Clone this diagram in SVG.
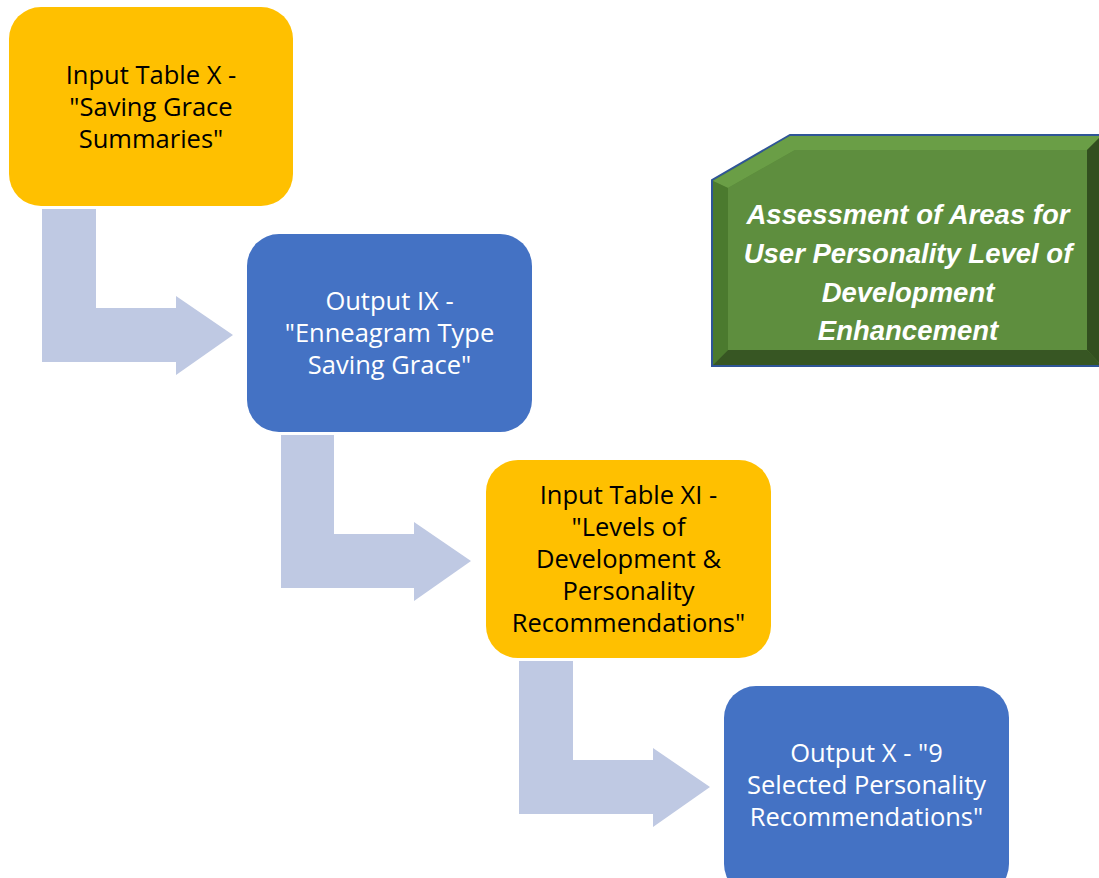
<svg xmlns="http://www.w3.org/2000/svg" width="1099" height="878" viewBox="0 0 1099 878">
<style>
.yel{fill:#FFC000}
.blu{fill:#4472C4}
.arr{fill:#BFC9E3}
.t{font-family:"Open Sans","Liberation Sans",sans-serif;font-size:25.5px;text-anchor:middle}
.dk{fill:#000}
.wh{fill:#fff}
.g{font-family:"Liberation Sans","Open Sans",sans-serif;font-size:27.5px;font-weight:bold;font-style:italic;fill:#fff;text-anchor:middle}
</style>
<rect width="1099" height="878" fill="#fff"/>
<g id="connectors">
<polygon class="arr" points="42,209 96,209 96,308 176,308 176,296 233,335 176,375 176,362 42,362"/>
<polygon class="arr" points="281,435 334,435 334,534 414,534 414,522 471,561 414,601 414,588 281,588"/>
<polygon class="arr" points="519,661 573,661 573,760 653,760 653,748 710,787 653,827 653,814 519,814"/>
</g>
<g id="node1">
<rect class="yel" x="9" y="7" width="284" height="199" rx="32"/>
<text class="t dk" x="151" y="84">Input Table X -</text>
<text class="t dk" x="151" y="116">"Saving Grace</text>
<text class="t dk" x="151" y="148">Summaries"</text>
</g>
<g id="node2">
<rect class="blu" x="247" y="234" width="285" height="198" rx="32"/>
<text class="t wh" x="389.5" y="310">Output IX -</text>
<text class="t wh" x="389.5" y="342">"Enneagram Type</text>
<text class="t wh" x="389.5" y="374">Saving Grace"</text>
</g>
<g id="node3">
<rect class="yel" x="486" y="460" width="285" height="198" rx="32"/>
<text class="t dk" x="628.5" y="504">Input Table XI -</text>
<text class="t dk" x="628.5" y="536">"Levels of</text>
<text class="t dk" x="628.5" y="568">Development &amp;</text>
<text class="t dk" x="628.5" y="600">Personality</text>
<text class="t dk" x="628.5" y="632">Recommendations"</text>
</g>
<g id="node4">
<rect class="blu" x="724" y="686" width="285" height="210" rx="32"/>
<text class="t wh" x="866.5" y="762">Output X - "9</text>
<text class="t wh" x="866.5" y="794">Selected Personality</text>
<text class="t wh" x="866.5" y="826">Recommendations"</text>
</g>
<g id="assessment">
<polygon points="790,135 1102,135 1102,366 712,366 712,180" fill="#5B8C3B" stroke="#2F5597" stroke-width="2"/>
<polygon points="790,136 1101,136 1087,150 795,150 728,188 713,181" fill="#6A9E46"/>
<polygon points="713,181 728,188 728,350 713,365" fill="#4B7A2E"/>
<polygon points="713,365 728,350 1087,350 1101,365" fill="#375623"/>
<polygon points="1087,150 1101,136 1101,365 1087,350" fill="#324F1F"/>
<polygon points="795,150 1087,150 1087,350 728,350 728,188" fill="#5E8E3E"/>
<text class="g" x="908" y="224">Assessment of Areas for</text>
<text class="g" x="908" y="263">User Personality Level of</text>
<text class="g" x="908" y="302">Development</text>
<text class="g" x="908" y="340">Enhancement</text>
</g>
</svg>
